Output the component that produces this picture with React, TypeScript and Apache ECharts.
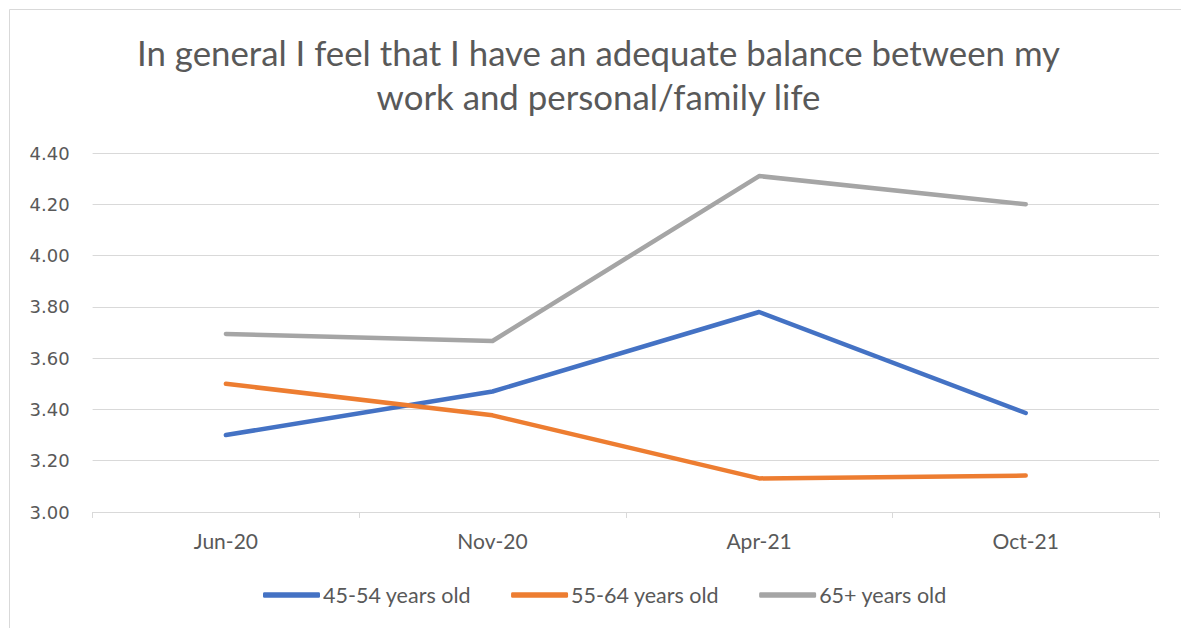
import React, { useEffect, useRef } from "react";
import * as echarts from "echarts";

const categories = ["Jun-20", "Nov-20", "Apr-21", "Oct-21"];
const age45to54 = [3.3, 3.47, 3.78, 3.386];
const age55to64 = [3.5, 3.377, 3.131, 3.142];
const age65plus = [3.694, 3.667, 4.31, 4.2];
const seriesNames = ["45-54 years old", "55-64 years old", "65+ years old"];
const colors = ["#4472C4", "#ED7D31", "#A5A5A5"];
const titleText =
  "In general I feel that I have an adequate balance between my\nwork and personal/family life";

const FONT = "Lato, 'Liberation Sans', sans-serif";

export default function App() {
  const ref = useRef<HTMLDivElement>(null);
  useEffect(() => {
    if (!ref.current) return;
    const chart = echarts.init(ref.current, undefined, { renderer: "svg" });
    const data = [age45to54, age55to64, age65plus];
    chart.setOption({
      animation: false,
      backgroundColor: "#ffffff",
      textStyle: { fontFamily: FONT },
      title: {
        text: titleText,
        left: 598.5,
        textAlign: "center",
        top: 30,
        padding: 0,
        textStyle: {
          fontFamily: FONT,
          fontSize: 34.8,
          fontWeight: 400,
          color: "#595959",
          lineHeight: 44,
        },
      },
      graphic: [
        {
          type: "rect",
          shape: { x: 9.5, y: 9.5, width: 1300, height: 800 },
          style: { fill: "none", stroke: "#d9d9d9", lineWidth: 1 },
          silent: true,
        },
      ],
      legend: {
        data: seriesNames,
        left: 258,
        top: 579,
        icon: "roundRect",
        itemWidth: 57,
        itemHeight: 5.5,
        itemGap: 40,
        textStyle: { fontFamily: FONT, fontSize: 21.5, color: "#595959", padding: [0, 0, 0, -2] },
      },
      grid: { left: 92.6, right: 22, top: 153, bottom: 116, containLabel: false },
      xAxis: {
        type: "category",
        data: categories,
        boundaryGap: true,
        axisLine: { lineStyle: { color: "#d9d9d9", width: 1 } },
        axisTick: { show: true, length: 6, lineStyle: { color: "#d9d9d9" } },
        axisLabel: { fontFamily: FONT, fontSize: 21, color: "#595959", margin: 18 },
        splitLine: { show: false },
      },
      yAxis: {
        type: "value",
        min: 3.0,
        max: 4.4,
        interval: 0.2,
        axisLine: { show: false },
        axisTick: { show: false },
        axisLabel: {
          fontFamily: "'DejaVu Sans', sans-serif",
          fontSize: 18,
          color: "#595959",
          margin: 23,
          formatter: (v: number) => v.toFixed(2),
        },
        splitLine: { lineStyle: { color: "#d9d9d9", width: 1 } },
      },
      series: seriesNames.map((name, i) => ({
        name,
        type: "line",
        data: data[i],
        symbol: "none",
        lineStyle: { color: colors[i], width: 4.5, cap: "round", join: "round" },
        itemStyle: { color: colors[i] },
      })),
    });
    return () => chart.dispose();
  }, []);
  return (
    <div
      ref={ref}
      style={{ position: "absolute", left: 0, top: 0, width: 1181, height: 628 }}
    />
  );
}
